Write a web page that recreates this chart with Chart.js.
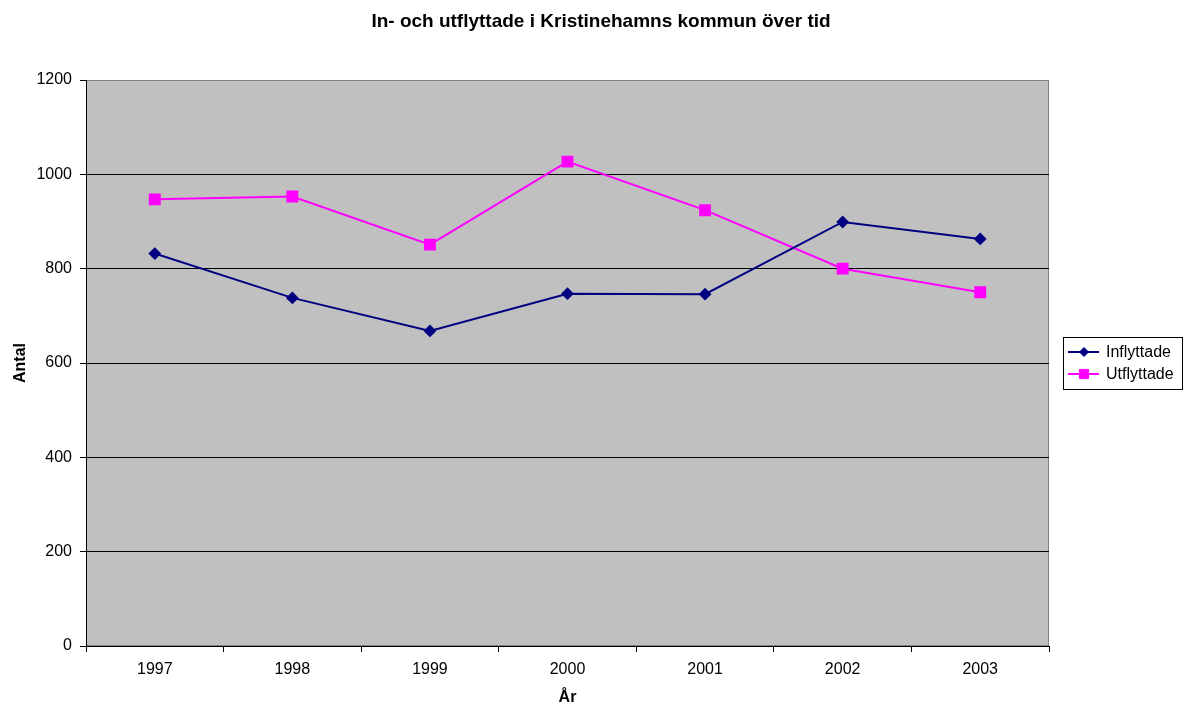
<!DOCTYPE html>
<html>
<head>
<meta charset="utf-8">
<script src="https://cdn.jsdelivr.net/npm/chart.js@4/dist/chart.umd.min.js"></script>
<style>
  body { margin: 0; background: #fff; }
  #wrap { width: 1184px; height: 704px; }
</style>
</head>
<body>
<div id="wrap"><canvas id="mychart"></canvas></div>
<script>
const years = ['1997', '1998', '1999', '2000', '2001', '2002', '2003'];
const inflyttade = [832, 738, 668, 747, 746, 899, 863];
const utflyttade = [947, 953, 851, 1027, 924, 800, 750];
const yTicks = [0, 200, 400, 600, 800, 1000, 1200];

const font = "'Liberation Sans', Arial, sans-serif";

// grey plot background with border
const plotBg = {
  id: 'plotBg',
  beforeDraw(chart) {
    const { ctx, chartArea: a } = chart;
    ctx.save();
    ctx.fillStyle = '#C0C0C0';
    ctx.fillRect(a.left, a.top, a.right - a.left, a.bottom - a.top);
    ctx.strokeStyle = '#808080';
    ctx.lineWidth = 1;
    ctx.strokeRect(a.left + 0.5, a.top + 0.5, a.right - a.left - 1, a.bottom - a.top - 1);
    ctx.restore();
  }
};

// boxed legend on the right, line + marker like the original
const sideLegend = {
  id: 'sideLegend',
  afterDraw(chart) {
    const { ctx } = chart;
    const x = 1063, y = 337, w = 120, h = 53;
    ctx.save();
    ctx.fillStyle = '#fff';
    ctx.fillRect(x, y, w, h);
    ctx.strokeStyle = '#000';
    ctx.lineWidth = 1;
    ctx.strokeRect(x + 0.5, y + 0.5, w - 1, h - 1);
    chart.data.datasets.forEach((ds, i) => {
      const cy = y + 15 + i * 22;
      ctx.strokeStyle = ds.borderColor;
      ctx.lineWidth = 2;
      ctx.beginPath();
      ctx.moveTo(x + 5, cy);
      ctx.lineTo(x + 36, cy);
      ctx.stroke();
      ctx.fillStyle = ds.backgroundColor;
      ctx.lineWidth = 1;
      Chart.helpers.drawPoint(ctx, {
        pointStyle: ds.pointStyle, radius: ds.pointRadius - 0.5, borderWidth: 1
      }, x + 21, cy);
      ctx.fillStyle = '#000';
      ctx.font = '16px ' + font;
      ctx.textBaseline = 'middle';
      ctx.fillText(ds.label, x + 43, cy + 1);
    });
    ctx.restore();
  }
};

const data = {
  labels: years,
  datasets: [{
    label: 'Inflyttade',
    data: inflyttade,
    borderColor: '#000080',
    backgroundColor: '#000080',
    pointStyle: 'rectRot',
    pointRadius: 5,
    pointHoverRadius: 5,
    borderWidth: 2,
    tension: 0,
  }, {
    label: 'Utflyttade',
    data: utflyttade,
    borderColor: '#FF00FF',
    backgroundColor: '#FF00FF',
    pointStyle: 'rect',
    pointRadius: 7,
    pointHoverRadius: 7,
    borderWidth: 2,
    tension: 0,
  }]
};

const config = {
  type: 'line',
  data: data,
  plugins: [plotBg, sideLegend],
  options: {
    responsive: true,
    maintainAspectRatio: false,
    animation: false,
    layout: { padding: { left: 18, right: 0, top: 0, bottom: 0 } },
    plugins: {
      legend: { display: false },
      tooltip: { enabled: false },
      title: {
        display: true,
        text: 'In- och utflyttade i Kristinehamns kommun över tid',
        color: '#000',
        font: { family: font, size: 19, weight: 'bold' },
        padding: { top: 10, bottom: 47.2 }
      }
    },
    scales: {
      x: {
        offset: true,
        grid: { offset: true, drawOnChartArea: false, color: '#000', tickLength: 6 },
        border: { color: '#000', width: 1 },
        ticks: { color: '#000', font: { family: font, size: 16 }, padding: 8, maxRotation: 0 },
        title: {
          display: true, text: 'År', color: '#000',
          font: { family: font, size: 16, weight: 'bold' },
          padding: { top: 0, bottom: -3 }
        },
        afterFit(scale) { scale.height = 58; }
      },
      y: {
        min: 0,
        max: 1200,
        afterBuildTicks(scale) { scale.ticks = yTicks.map(v => ({ value: v })); },
        grid: {
          color: ctx => (ctx.tick && ctx.tick.value === 1200) ? '#808080' : '#000',
          tickLength: 6,
          tickColor: '#000'
        },
        border: { color: '#000', width: 1 },
        ticks: {
          color: '#000', font: { family: font, size: 16 }, padding: 8,
          callback: v => String(v)
        },
        title: {
          display: true, text: 'Antal', color: '#000',
          font: { family: font, size: 16, weight: 'bold' },
          padding: { top: -6.6, bottom: 0 }
        },
        afterFit(scale) { scale.width = 68; }
      },
      // empty axis that keeps room for the legend on the right
      yRight: {
        position: 'right',
        min: 0,
        max: 1200,
        grid: { display: false },
        border: { display: false },
        ticks: { display: false },
        afterFit(scale) { scale.width = 135; }
      }
    }
  }
};

let chart = new Chart(document.querySelector('#mychart'), config);
</script>
</body>
</html>
